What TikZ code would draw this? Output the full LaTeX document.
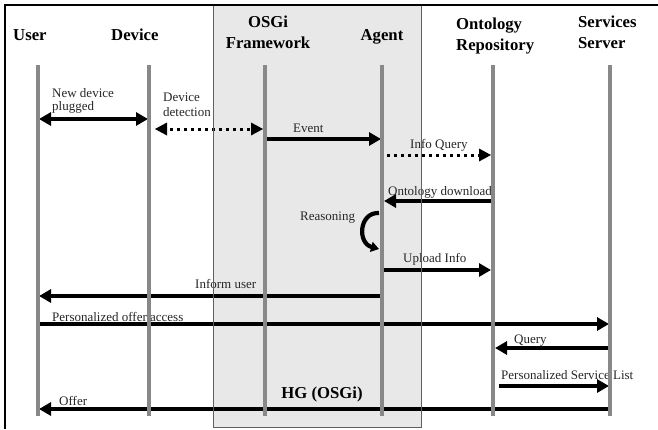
\documentclass[tikz,border=0pt]{standalone}
\usepackage{fontspec}
\setmainfont{Liberation Serif}
\usetikzlibrary{arrows.meta}
\definecolor{lifegray}{HTML}{888888}
\definecolor{boxfill}{HTML}{E8E8E8}
\definecolor{boxline}{HTML}{606060}
\begin{document}
\begin{tikzpicture}[x=1pt,y=-1pt,
  hdr/.style={inner sep=0pt,font=\fontsize{16.7}{20}\selectfont\bfseries,anchor=base west},
  lbl/.style={inner sep=0pt,font=\fontsize{13}{15}\selectfont,anchor=base west,text=black!85},
  lifeline/.style={draw=lifegray,line width=4pt},
  msg/.style={line width=3.3pt,-{Triangle[length=12pt,width=13pt]}},
  dmsg/.style={line width=3.3pt,{Triangle[length=12pt,width=13pt]}-{Triangle[length=12pt,width=13pt]}},
  dotmsg/.style={line width=3pt,dash pattern=on 2.6pt off 4.4pt}
]
\useasboundingbox (0,0) rectangle (658,429);
% grey home gateway box
\fill[boxfill] (213,5) rectangle (421,427);
% frame
\draw[line width=2.5pt] (5,429) -- (5,5) -- (658,5);

% headers
\node[hdr] (user) at (13,40) {User};
\node[hdr] (device) at (111,40) {Device};
\node[hdr,anchor=base] (osgi1) at (268,27) {OSGi};
\node[hdr,anchor=base] (osgi2) at (268,48) {Framework};
\node[hdr,anchor=base] (agent) at (382,40) {Agent};
\node[hdr] (onto1) at (456,29) {Ontology};
\node[hdr] (onto2) at (456,50) {Repository};
\node[hdr] (serv1) at (578,27) {Services};
\node[hdr] (serv2) at (578,48) {Server};
\node[hdr,anchor=base] (hg) at (322,398) {HG (OSGi)};

% lifeline ends
\coordinate (Ut) at (38,65);  \coordinate (Ub) at (38,416);
\coordinate (Dt) at (149,65); \coordinate (Db) at (149,416);
\coordinate (Ot) at (265,65); \coordinate (Ob) at (265,416);
\coordinate (At) at (382,65); \coordinate (Ab) at (382,416);
\coordinate (Rt) at (493,65); \coordinate (Rb) at (493,416);
\coordinate (St) at (610,65); \coordinate (Sb) at (610,416);

% message end points
\coordinate (m1a) at (39,119);  \coordinate (m1b) at (148,119);
\coordinate (m2a) at (155,129); \coordinate (m2b) at (263,129);
\coordinate (m3a) at (266,139); \coordinate (m3b) at (381,139);
\coordinate (m4a) at (387,155); \coordinate (m4b) at (491,155);
\coordinate (m5a) at (493,201); \coordinate (m5b) at (384,201);
\coordinate (r1) at (379,213);  \coordinate (r2) at (379,249);
\coordinate (m6a) at (383,270); \coordinate (m6b) at (491,270);
\coordinate (m7a) at (382,296); \coordinate (m7b) at (39,296);
\coordinate (m8a) at (38,324);  \coordinate (m8b) at (609,324);
\coordinate (m9a) at (610,348); \coordinate (m9b) at (495,348);
\coordinate (m10a) at (499,386); \coordinate (m10b) at (609,386);
\coordinate (m11a) at (610,409); \coordinate (m11b) at (39,409);

% messages
\draw[dmsg] (m1a) -- (m1b);
\draw[dotmsg] (163,129) -- (256,129);
\fill (m2a) -- ++(12,-6.5) -- ++(0,13) -- cycle;
\fill (m2b) -- ++(-12,-6.5) -- ++(0,13) -- cycle;
\draw[msg] (m3a) -- (m3b);
\draw[dotmsg] (m4a) -- (480,155);
\fill (m4b) -- ++(-12,-6.5) -- ++(0,13) -- cycle;
\draw[msg] (m5a) -- (m5b);
\draw[line width=4.2pt,-{Triangle[length=8pt,width=10pt]}] (r1) .. controls (359,212) and (357,243) .. (r2);
\draw[msg] (m6a) -- (m6b);
\draw[msg] (m7a) -- (m7b);
\draw[msg] (m8a) -- (m8b);
\draw[msg] (m9a) -- (m9b);
\draw[msg] (m10a) -- (m10b);
\draw[msg] (m11a) -- (m11b);

% labels
\node[lbl] (l1a) at (52,97) {New device};
\node[lbl] (l1b) at (52,110.5) {plugged};
\node[lbl] (l2a) at (163,101.5) {Device};
\node[lbl] (l2b) at (163,116.5) {detection};
\node[lbl] (l3) at (293,132.5) {Event};
\node[lbl] (l4) at (410,148.5) {Info Query};
\node[lbl] (l5) at (388,195) {Ontology download};
\node[lbl] (l6) at (300,220) {Reasoning};
\node[lbl] (l7) at (403,262) {Upload Info};
\node[lbl] (l8) at (195,288) {Inform user};
\node[lbl] (l9) at (52,321) {Personalized offer access};
\node[lbl] (l10) at (514,343) {Query};
\node[lbl] (l11) at (501,379) {Personalized Service List};
\node[lbl] (l12) at (59,405.5) {Offer};

% box border and lifelines on top
\draw[boxline,line width=1pt] (213,5) rectangle (421,427);
\draw[line width=2.5pt] (5,5) -- (658,5);
\foreach \p in {U,D,O,A,R,S} \draw[lifeline] (\p t) -- (\p b);
\end{tikzpicture}
\end{document}
